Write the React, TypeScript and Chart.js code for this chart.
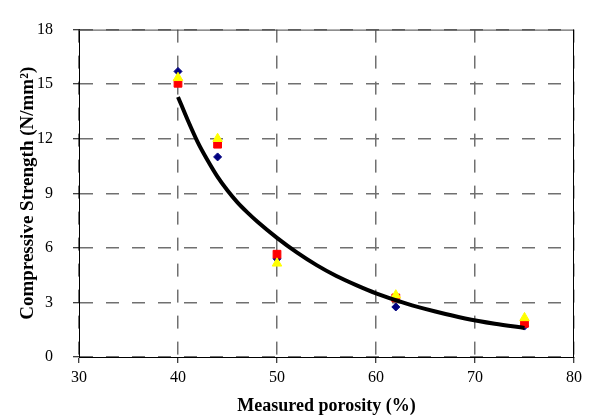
import React, { useEffect, useRef } from "react";
import { Chart, registerables } from "chart.js";

Chart.register(...registerables);

const porosity = [40, 44, 50, 62, 75];
const seriesDiamond = [15.7, 11.0, 5.4, 2.75, 1.7];
const seriesSquare = [15.05, 11.7, 5.65, 3.25, 1.85];
const seriesTriangle = [15.35, 12.0, 5.15, 3.4, 2.15];

const trendX = [40, 41, 42, 43, 44, 45, 46, 47, 48, 50, 52, 54, 56, 58, 60, 63, 66, 69, 72, 75];
const trendY = [14.3, 13.0, 11.8, 10.8, 9.9, 9.15, 8.5, 7.95, 7.45, 6.55, 5.75, 5.05, 4.45, 3.95, 3.5, 2.95, 2.5, 2.12, 1.83, 1.6];

const xTicks = [30, 40, 50, 60, 70, 80];
const yTicks = [0, 3, 6, 9, 12, 15, 18];

const FONT = "'Liberation Serif', 'Times New Roman', serif";

const frame = {
  id: "frame",
  afterDatasetsDraw(chart: any) {
    const { ctx, chartArea } = chart;
    ctx.save();
    ctx.lineWidth = 1;
    ctx.strokeStyle = "#444";
    ctx.beginPath();
    ctx.moveTo(chartArea.left, chartArea.top + 0.5);
    ctx.lineTo(chartArea.right, chartArea.top + 0.5);
    ctx.stroke();
    ctx.strokeStyle = "#000";
    ctx.beginPath();
    ctx.moveTo(chartArea.right - 0.5, chartArea.top);
    ctx.lineTo(chartArea.right - 0.5, chartArea.bottom);
    ctx.stroke();
    ctx.restore();
  },
};

export default function App() {
  const ref = useRef<HTMLCanvasElement>(null);
  useEffect(() => {
    document.body.style.margin = "0";
    const pts = (ys: number[]) => porosity.map((x, i) => ({ x, y: ys[i] }));
    const chart = new Chart(ref.current!, {
      type: "scatter",
      data: {
        datasets: [
          {
            label: "trend",
            data: trendX.map((x, i) => ({ x, y: trendY[i] })),
            showLine: true,
            borderColor: "#000",
            borderWidth: 4,
            pointRadius: 0,
            cubicInterpolationMode: "monotone",
            fill: false,
          } as any,
          {
            label: "C",
            data: pts(seriesTriangle),
            pointStyle: "triangle",
            pointRadius: 5.5,
            backgroundColor: "#FFFF00",
            borderColor: "#FFFF00",
            borderWidth: 1,
          },
          {
            label: "B",
            data: pts(seriesSquare),
            pointStyle: "rect",
            pointRadius: 5.5,
            backgroundColor: "#FF0000",
            borderColor: "#FF0000",
            borderWidth: 1,
          },
          {
            label: "A",
            data: pts(seriesDiamond),
            pointStyle: "rectRot",
            pointRadius: 4,
            backgroundColor: "#000080",
            borderColor: "#000080",
            borderWidth: 1,
          },
        ],
      },
      options: {
        responsive: false,
        animation: false,
        layout: { padding: { left: 0, right: 16, top: 15, bottom: 0 } },
        plugins: { legend: { display: false }, tooltip: { enabled: false } },
        scales: {
          x: {
            type: "linear",
            min: 30,
            max: 80,
            afterBuildTicks: (s: any) => {
              s.ticks = xTicks.map((v) => ({ value: v }));
            },
            afterFit: (s: any) => {
              s.height = 60;
            },
            ticks: {
              color: "#000",
              font: { family: FONT, size: 16 },
              padding: 5,
            },
            grid: {
              color: "#707070",
              lineWidth: 1.5,
              tickLength: 6,
              tickColor: "#000",
              tickWidth: 1,
              tickBorderDash: [],
            },
            border: { display: true, color: "#000", width: 1, dash: [13, 13] },
            title: {
              display: true,
              text: "Measured porosity (%)",
              color: "#000",
              font: { family: FONT, size: 18, weight: "bold" },
              padding: { top: 0, bottom: 0 },
            },
          },
          y: {
            type: "linear",
            min: 0,
            max: 18,
            afterBuildTicks: (s: any) => {
              s.ticks = yTicks.map((v) => ({ value: v }));
            },
            afterFit: (s: any) => {
              s.width = 79;
            },
            ticks: {
              color: "#000",
              font: { family: FONT, size: 16 },
              padding: 20,
            },
            grid: {
              color: "#707070",
              lineWidth: 1.5,
              tickLength: 6,
              tickColor: "#000",
              tickWidth: 1,
              tickBorderDash: [],
            },
            border: { display: true, color: "#000", width: 1, dash: [13, 13] },
            title: {
              display: true,
              text: "Compressive Strength (N/mm²)",
              color: "#000",
              font: { family: FONT, size: 19, weight: "bold" },
              padding: { top: 17, bottom: 0 },
            },
          },
        },
      },
      plugins: [frame],
    });
    return () => chart.destroy();
  }, []);
  return (
    <div style={{ width: 590, height: 417 }}>
      <canvas ref={ref} width={590} height={417} />
    </div>
  );
}
